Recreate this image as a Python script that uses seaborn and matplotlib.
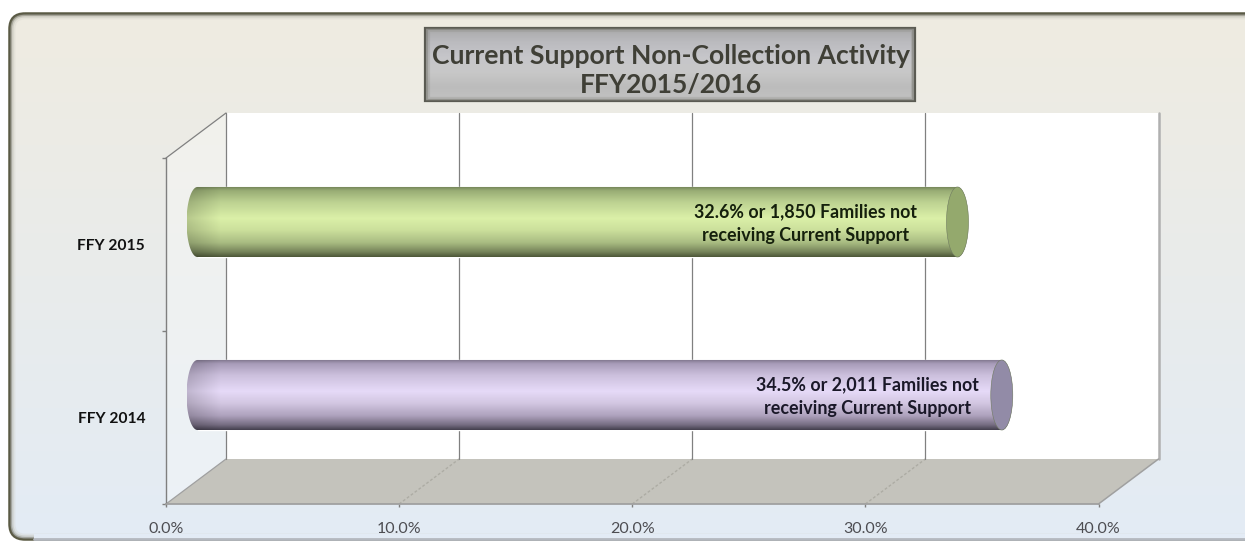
import numpy as np
import pandas as pd
import matplotlib
matplotlib.use("Agg")
import matplotlib.pyplot as plt
import seaborn as sns
from matplotlib.colors import LinearSegmentedColormap, to_rgb
from matplotlib.patches import Ellipse, FancyBboxPatch, PathPatch, Polygon, Rectangle
from matplotlib.path import Path

categories = ["FFY 2015", "FFY 2014"]
percent_values = [32.6, 34.5]
bar_labels = ["32.6% or 1,850 Families not\nreceiving Current Support",
              "34.5% or 2,011 Families not\nreceiving Current Support"]
x_ticks = [0, 10, 20, 30, 40]
x_tick_labels = ["0.0%", "10.0%", "20.0%", "30.0%", "40.0%"]
title_text = "Current Support Non-Collection Activity\nFFY2015/2016"

sns.set_theme(style="white")
plt.rcParams["font.family"] = ["Lato", "DejaVu Sans"]

W, H = 1245, 541
fig = plt.figure(figsize=(W / 100, H / 100), dpi=100, facecolor="white")

# plot geometry, in pixels
FL, FR, FT, FB = 166.0, 1098.5, 158.0, 504.0
DX, DY = 60.0, -45.0


def ax_rect(l, r, t, b):
    return [l / W, 1 - b / H, (r - l) / W, (b - t) / H]


bg = fig.add_axes([0, 0, 1, 1], zorder=0)
bg.set_xlim(0, W)
bg.set_ylim(H, 0)
bg.set_axis_off()

# card background: runs off the right edge of the image
CL, CT, CR, CB = 9, 13, 1262, 540
card = FancyBboxPatch((CL, CT), CR - CL, CB - CT, boxstyle="round,pad=0,rounding_size=16",
                      fc="none", ec="none", transform=bg.transData)
bg.add_patch(card)
top_c, bot_c = np.array(to_rgb("#efece1")), np.array(to_rgb("#e3ebf5"))
t = np.linspace(0, 1, 256)[:, None, None]
grad = top_c[None, None, :] * (1 - t) + bot_c[None, None, :] * t
im = bg.imshow(grad, extent=(CL, CR, CB, CT), aspect="auto", zorder=1)
im.set_clip_path(card)
for inset, col, lw, alpha in [(0.5, "#5a5a44", 1.8, 1.0), (2.0, "#77776a", 1.5, 0.6),
                              (3.5, "#a8a89c", 1.5, 0.4), (5.0, "#d0d0c6", 2.0, 0.3)]:
    bg.add_patch(FancyBboxPatch((CL + inset, CT + inset), CR - CL - 2 * inset, CB - CT - 2 * inset,
                                boxstyle=f"round,pad=0,rounding_size={16 - inset}",
                                fc="none", ec=col, lw=lw, alpha=alpha, zorder=2))
# the bottom edge of the card is much fainter than the top and left edges
bg.add_patch(Rectangle((34, CB - 6), W - 34, 6, fc="#e3ebf5", ec="none", zorder=2.1))
bg.plot([34, W], [CB - 1, CB - 1], color="#b4b8bf", lw=2.0, zorder=2.2)
bg.set_xlim(0, W)
bg.set_ylim(H, 0)

# 3-D walls and floor
scale = (FR - FL) / x_ticks[-1]
bg.add_patch(Polygon([(FL, FT), (FL + DX, FT + DY), (FL + DX, FB + DY), (FL, FB)],
                     fc="white", alpha=0.3, ec="none", zorder=3))
bg.add_patch(Rectangle((FL + DX, FT + DY), FR - FL, FB - FT, fc="white", ec="none", zorder=3))
bg.add_patch(Polygon([(FL, FB), (FL + DX, FB + DY), (FR + DX, FB + DY), (FR, FB)],
                     fc="#c4c3bc", ec="none", zorder=3))
for tick in x_ticks:
    xf = FL + tick * scale
    if tick not in (x_ticks[0], x_ticks[-1]):
        bg.plot([xf, xf + DX], [FB, FB + DY], color="#adaca4", lw=1.0, ls=(0, (2, 1.5)), zorder=4)
    if tick == x_ticks[-1]:
        bg.plot([xf + DX] * 2, [FT + DY, FB + DY], color="#b0b0b0", lw=1.8, zorder=4)
    else:
        bg.plot([xf + DX] * 2, [FT + DY, FB + DY], color="#808080", lw=0.9, zorder=4)
bg.plot([FL, FL + DX], [FT, FT + DY], color="#808080", lw=0.9, zorder=4)
bg.plot([FL, FL + DX], [FB, FB + DY], color="#a0a0a0", lw=0.9, zorder=4)
bg.plot([FR, FR + DX], [FB, FB + DY], color="#a0a0a0", lw=1.1, zorder=4)

# title box
BL, BR, BT, BB = 424.5, 915.5, 27, 102
box_grad = LinearSegmentedColormap.from_list(
    "box", ["#a8a8a8", "#bbbbbf", "#c6c6ca", "#c8c8c8", "#bcbcbc", "#c2c2c2"])
bg.imshow(np.linspace(0, 1, 128)[:, None], extent=(BL, BR, BB, BT), aspect="auto",
          cmap=box_grad, zorder=5)
for inset, col, lw, alpha in [(0.8, "#5a5a52", 1.6, 1.0), (2.4, "#77776f", 1.6, 0.55),
                              (4.0, "#8f8f89", 1.6, 0.3)]:
    bg.add_patch(Rectangle((BL + inset, BT + inset), BR - BL - 2 * inset, BB - BT - 2 * inset,
                           fc="none", ec=col, lw=lw, alpha=alpha, zorder=6))
bg.set_xlim(0, W)
bg.set_ylim(H, 0)
bg.text(670.5, 70.5, title_text, ha="center", va="center", fontsize=19.1, fontweight="bold",
        color="#3f3f36", linespacing=1.3, zorder=7)

# front plane: carries axes, ticks and labels
ax = fig.add_axes(ax_rect(FL, FR, FT, FB), zorder=1)
ax.patch.set_alpha(0)
ax.set_xlim(x_ticks[0], x_ticks[-1])
ax.set_ylim(1.5, -0.5)
ax.set_xticks(x_ticks, x_tick_labels, fontsize=11.5, color="#4d4d52")
ax.set_yticks(range(len(categories)), categories, fontsize=11.2, fontweight="bold", color="#111111")
ax.set_yticks([-0.5, 0.5, 1.5], minor=True)
ax.tick_params(axis="x", length=2.5, width=1, color="#808080", pad=10.5, bottom=True)
ax.tick_params(axis="y", which="major", length=0, pad=15, left=False)
ax.tick_params(axis="y", which="minor", length=3, width=1, color="#808080", left=True)
for side in ("top", "right"):
    ax.spines[side].set_visible(False)
ax.spines["left"].set_color("#7f7f7f")
ax.spines["left"].set_linewidth(1.0)
ax.spines["bottom"].set_color("#a0a0a0")
ax.spines["bottom"].set_linewidth(1.3)

# bar plane: sits half way back into the chart depth
ax_bar = fig.add_axes(ax_rect(FL + DX / 2 + 1.5, FR + DX / 2 + 1.5, FT + DY / 2, FB + DY / 2), zorder=2)
ax_bar.patch.set_alpha(0)
df = pd.DataFrame({"year": categories, "pct": percent_values})
face_colors = ["#b9cf8c", "#c3b6d6"]
sns.barplot(data=df, x="pct", y="year", hue="year", order=categories, hue_order=categories,
            palette=face_colors, width=0.405, dodge=False, legend=False, ax=ax_bar)
ax_bar.set_xlim(x_ticks[0], x_ticks[-1])
ax_bar.set_ylim(1.5, -0.5)
ax_bar.set_axis_off()

stop_pos = [0, 0.06, 0.22, 0.45, 0.62, 0.8, 0.93, 1]
stops = [
    ["#6f7f55", "#98ac74", "#bcd191", "#dbf0a8", "#cce09c", "#a9bc82", "#76845a", "#4e5839"],
    ["#7b7288", "#a79bb8", "#cbbfdc", "#e6daf8", "#d3c7e2", "#aea2bd", "#766d82", "#45404f"],
]
cap_colors = ["#94a96d", "#928ba7"]
cap_r = 11.0 / scale  # end-cap half width in data units
left_shade = 0.84

for bar, st, cap in zip(ax_bar.patches, stops, cap_colors):
    x1 = bar.get_width()
    y0, hgt = bar.get_y(), bar.get_height()
    yc = y0 + hgt / 2
    cmap = LinearSegmentedColormap.from_list("cyl", list(zip(stop_pos, st)))
    xs = np.linspace(-cap_r, x1 + cap_r, 500)
    ys = np.linspace(0, 1, 128)
    rgb = cmap(ys)[:, :3][:, None, :] * np.ones((128, 500, 3))
    fade = np.clip((xs + cap_r) / (3 * cap_r), 0, 1)
    rgb = rgb * (left_shade + (1 - left_shade) * fade)[None, :, None]
    img = ax_bar.imshow(rgb, extent=(-cap_r, x1 + cap_r, y0 + hgt, y0), aspect="auto", zorder=3)
    th = np.linspace(np.pi / 2, 3 * np.pi / 2, 40)
    left = np.c_[cap_r * np.cos(th), yc - hgt / 2 * np.sin(th)]
    th2 = np.linspace(3 * np.pi / 2, 5 * np.pi / 2, 40)
    right = np.c_[x1 + cap_r * np.cos(th2), yc - hgt / 2 * np.sin(th2)]
    outline = np.vstack([left, right, left[:1]])
    clip = PathPatch(Path(outline), transform=ax_bar.transData, fc="none", ec="none")
    clip.set_clip_on(False)
    ax_bar.add_patch(clip)
    img.set_clip_box(fig.bbox)
    img.set_clip_path(clip)
    ax_bar.add_patch(Ellipse((x1, yc), 2 * cap_r, hgt, fc=cap, ec="#6f7a60", lw=0.4, zorder=4))

# labels are centred a little inside each bar end
for i, (val, label) in enumerate(zip(percent_values, bar_labels)):
    off = -152 if i == 0 else -134
    ax_bar.annotate(label, xy=(val, i), xytext=(off * 0.72, -1.5 * 0.72),
                    textcoords="offset points", ha="center", va="center",
                    fontsize=12.9, fontweight="bold", color="#15200c" if i == 0 else "#1a1828",
                    linespacing=1.5, zorder=6)
ax_bar.set_xlim(x_ticks[0], x_ticks[-1])
ax_bar.set_ylim(1.5, -0.5)

fig.savefig("out.png", dpi=100, facecolor="white")
